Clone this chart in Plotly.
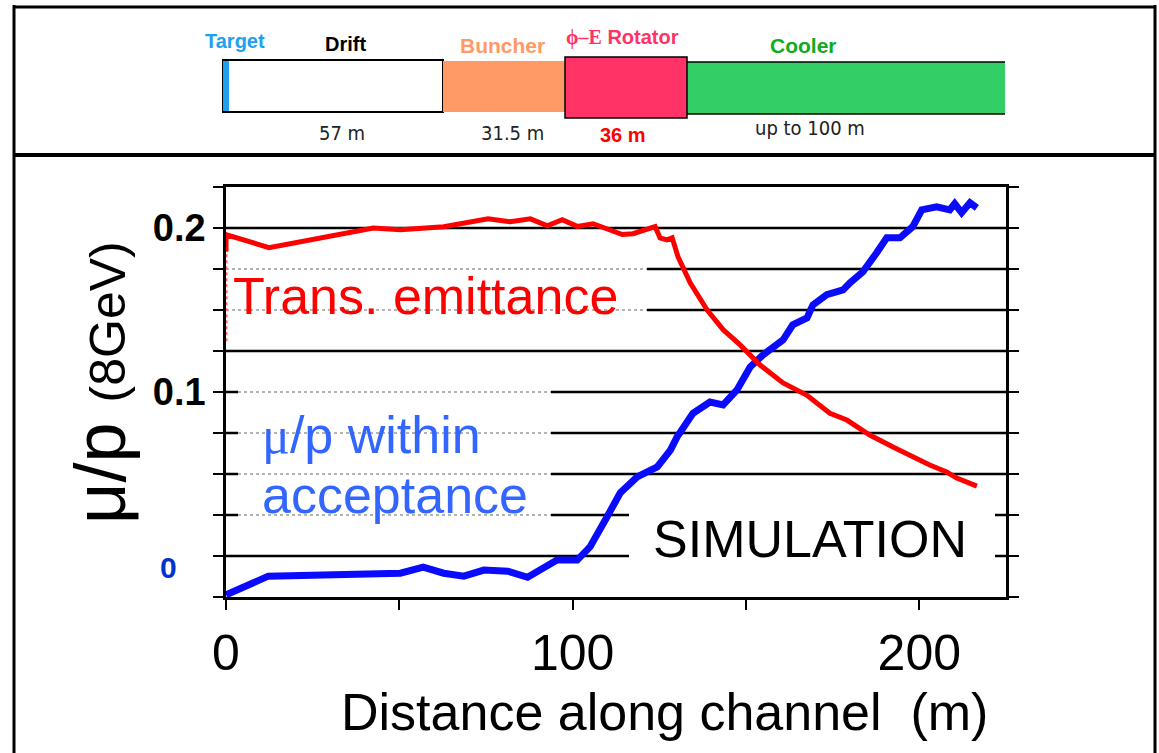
import plotly.graph_objects as go

# ---------------- data ----------------
dist_red = [0, 0, 12.4, 42.5, 50.3, 62.8, 75.6, 82.0, 87.8, 92.7,
            97.0, 101.3, 105.9, 110.8, 114.3, 117.4, 123.8, 125.2, 127.2, 128.7,
            130.4, 133.9, 138.8, 143.4, 148.3, 154.0, 160.7, 167.6, 174.2, 179.1,
            185.7, 192.4, 198.1, 203.0, 207.9, 210.8, 216.6]
emit_red = [0.1855, 0.196, 0.188, 0.200, 0.1989, 0.2008, 0.2056, 0.2038, 0.2056, 0.2014,
            0.205, 0.201, 0.2026, 0.199, 0.196, 0.1965, 0.2008, 0.194, 0.1928, 0.194,
            0.1824, 0.1666, 0.150, 0.138, 0.1287, 0.1166, 0.1055, 0.098, 0.087, 0.0829,
            0.0738, 0.0665, 0.0604, 0.0555, 0.0512, 0.0475, 0.0426]
red_start_x = [0, 0]
red_start_y = [0.131, 0.1855]

dist_blue = [0, 12.2, 50.3, 56.9, 62.8, 68.6, 74.4, 81.3, 87.0, 91.5,
             95.5, 101.3, 105.0, 109.9, 113.7, 118.6, 124.4, 128.2, 130.1, 134.7,
             139.6, 143.4, 147.4, 151.2, 154.9, 160.7, 163.5, 167.6, 169.3, 173.3,
             178.0, 180.0, 183.7, 187.7, 190.6, 194.4, 198.1, 200.7, 205.0, 208.8,
             210.2, 212.2, 214.6, 216.6]
mu_blue = [-0.0237, -0.0123, -0.0105, -0.0068, -0.0105, -0.0123, -0.0086, -0.0093, -0.013, -0.0068,
           -0.0025, -0.0025, 0.0055, 0.0238, 0.0384, 0.0482, 0.0543, 0.0646, 0.0725, 0.087,
           0.0939, 0.0921, 0.1013, 0.1153, 0.1226, 0.1318, 0.141, 0.1452, 0.1531, 0.1593,
           0.1623, 0.1666, 0.1733, 0.1849, 0.194, 0.194, 0.2008, 0.2111, 0.2129, 0.2111,
           0.2148, 0.2093, 0.2154, 0.2123]

x_tick_vals = [0, 50, 100, 150, 200]
x_tick_text = ["0", "", "100", "", "200"]
y_tick_vals = [-0.025, 0.0, 0.025, 0.05, 0.075, 0.1, 0.125, 0.15, 0.175, 0.2, 0.225]
y_tick_text = ["", "", "", "", "", "<b>0.1</b>", "", "", "", "<b>0.2</b>", ""]

stages = ["Target", "Drift", "Buncher", "Rotator", "Cooler"]
stage_lengths = ["", "57 m", "31.5 m", "36 m", "up to 100 m"]

# ---------------- layout geometry ----------------
W, H = 1159, 753
ML, MR, MT, MB = 226, 153, 187, 156
PW = W - ML - MR
PH = H - MT - MB

def px(xp):
    return (xp - ML) / PW

def py(yp):
    return (H - MB - yp) / PH

FONT = "Liberation Sans, Arial, sans-serif"
NARROW = "Liberation Sans Narrow, DejaVu Sans Condensed, Liberation Sans, Arial"

fig = go.Figure()
fig.add_trace(go.Scatter(x=dist_blue, y=mu_blue, mode="lines",
                         line=dict(color="#0a0aff", width=7), showlegend=False))
fig.add_trace(go.Scatter(x=red_start_x, y=red_start_y, mode="lines",
                         line=dict(color="#ff6060", width=3, dash="dot"), showlegend=False))
fig.add_trace(go.Scatter(x=dist_red, y=emit_red, mode="lines",
                         line=dict(color="#ff0000", width=5), showlegend=False))

shapes = []

def seg(x0p, x1p, yv, solid=True):
    shapes.append(dict(type="line", xref="paper", yref="y", x0=px(x0p), x1=px(x1p),
                       y0=yv, y1=yv, layer="below",
                       line=dict(color="black" if solid else "#9a9a9a",
                                 width=2.5 if solid else 1.6,
                                 dash="solid" if solid else "dot")))

# gridlines (partially hidden behind the text boxes)
seg(226, 1006, 0.2)
seg(226, 647, 0.175, False); seg(647, 1006, 0.175)
seg(226, 647, 0.15, False); seg(647, 1006, 0.15)
seg(226, 1006, 0.125)
for yv in (0.1, 0.075, 0.05):
    seg(226, 238, yv); seg(238, 551, yv, False); seg(551, 1006, yv)
seg(226, 238, 0.025); seg(238, 551, 0.025, False); seg(551, 629, 0.025)
seg(226, 629, 0.0)
seg(995, 1006, 0.025); seg(995, 1006, 0.0)

def pline(x0, y0, x1, y1, w=3, color="black"):
    shapes.append(dict(type="line", xref="paper", yref="paper",
                       x0=px(x0), x1=px(x1), y0=py(y0), y1=py(y1),
                       line=dict(color=color, width=w)))

def prect(x0, y0, x1, y1, fill, lw=0, lc="black"):
    shapes.append(dict(type="rect", xref="paper", yref="paper",
                       x0=px(x0), x1=px(x1), y0=py(y1), y1=py(y0),
                       fillcolor=fill, line=dict(color=lc, width=lw)))

# outer frame and divider
pline(14, 7, 1155, 7, 3)
pline(14, 5, 14, 753, 3)
pline(1155, 5, 1155, 753, 3)
pline(14, 155, 1155, 155, 4)

# schematic of the channel
prect(223, 60, 443, 112, "white", 2)
prect(223, 61, 229, 111, "#1ea0ee")
prect(443, 61, 565, 112, "#ff9966")
prect(687, 62, 1005, 114, "#33cf66")
pline(687, 62, 1005, 62, 1.5)
pline(687, 114, 1005, 114, 1.5)
prect(565, 57, 687, 118, "#ff3366", 1.5)

ann = []

def text(t, x, y, size, color="black", bold=False, family=FONT, xanchor="center", angle=0):
    ann.append(dict(text=("<b>%s</b>" % t) if bold else t, x=px(x), y=py(y),
                    xref="paper", yref="paper", showarrow=False, xanchor=xanchor,
                    yanchor="middle", textangle=angle,
                    font=dict(size=size, color=color, family=family)))

text(stages[0], 235, 41, 20, "#1ea0ee", True)
text(stages[1], 345, 44, 20, "black", True)
text(stages[2], 502, 46, 21, "#ff9966", True)
text("<span style='font-family:Liberation Serif'>ϕ–E</span> " + stages[3], 622, 38, 20, "#ff3366", True)
text(stages[4], 803, 46, 21, "#11aa22", True)
text(stage_lengths[1], 342, 133, 20, "#222222", family=NARROW)
text(stage_lengths[2], 512, 133, 20, "#222222", family=NARROW)
text(stage_lengths[3], 623, 135, 20, "#ff0000", True)
text(stage_lengths[4], 810, 128, 20, "#222222", family=NARROW)

# labels inside the plot
text("Trans. emittance", 231, 296, 52, "#ff0000", xanchor="left")
text("<span style='font-family:Liberation Serif'>μ</span>/p within", 260, 435, 52, "#3366ff", xanchor="left")
text("acceptance", 260, 495, 52, "#3366ff", xanchor="left")
text("SIMULATION", 810, 539, 52, "black")
text("0", 168, 567, 30, "#0033cc", True)

# axis titles
text("μ/p <span style='font-size:50px'>(8GeV)</span>", 100, 383, 72, "black", angle=-90)
text("Distance along channel\u00a0\u00a0(m)", 664, 712, 52, "black")

fig.update_layout(
    width=W, height=H,
    margin=dict(l=ML, r=MR, t=MT, b=MB),
    paper_bgcolor="white", plot_bgcolor="white",
    showlegend=False,
    shapes=shapes, annotations=ann,
    font=dict(family=FONT, color="black"),
    xaxis=dict(range=[0, 225], showgrid=False, zeroline=False,
               showline=True, linecolor="black", linewidth=2.5, mirror=True,
               tickmode="array", tickvals=x_tick_vals, ticktext=x_tick_text,
               ticks="outside", ticklen=10, tickwidth=2, tickcolor="black",
               tickfont=dict(size=50, color="black", family=FONT),
               layer="below traces"),
    yaxis=dict(range=[-0.025, 0.225], showgrid=False, zeroline=False,
               showline=True, linecolor="black", linewidth=2.5, mirror="ticks",
               tickmode="array", tickvals=y_tick_vals, ticktext=y_tick_text,
               ticks="outside", ticklen=10, tickwidth=2, tickcolor="black",
               tickfont=dict(size=38, color="black", family=FONT),
               layer="below traces"),
)

fig.write_html("out.html")
